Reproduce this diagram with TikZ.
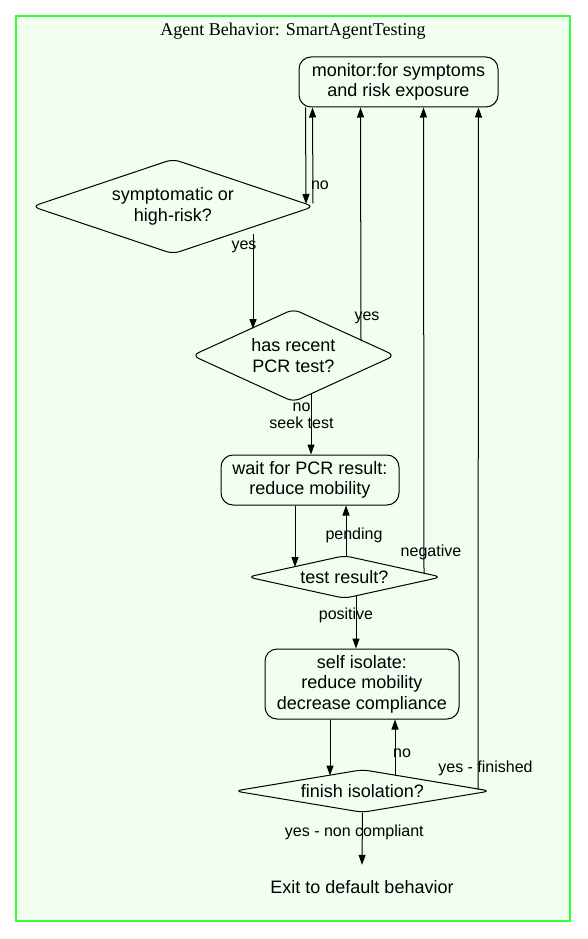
\documentclass[tikz,border=0pt]{standalone}
\usepackage{fontspec}
\setmainfont{Liberation Sans}
\newfontfamily\titlefont{Liberation Serif}
\usetikzlibrary{calc}
\usetikzlibrary{arrows.meta,shapes.geometric}
\definecolor{framegreen}{RGB}{51,255,51}
\definecolor{panelfill}{RGB}{240,255,240}
\tikzset{
	% Two node styles for the behaviour chart: states and tests
	state node/.style={draw,line width=1pt,rounded corners=12pt,align=center,inner sep=0,font=\fontsize{18}{20.5}\selectfont},
	test node/.style={diamond,draw,line width=1pt,rounded corners=7pt,align=center,inner sep=0,font=\fontsize{18}{20.5}\selectfont},
	flow/.style={draw,line width=1pt,-{Triangle[length=10pt,width=7pt]}},
	edge label/.style={font=\fontsize{16}{17}\selectfont,inner sep=0,align=center}
}

\begin{document}
\begin{tikzpicture}[x=1pt,y=-1pt]
				\useasboundingbox (0,0) rectangle (587,939);
				\draw[framegreen,fill=panelfill,line width=1.5pt] (16,16) rectangle (570,921);
				\node(title)[font=\titlefont\fontsize{18}{20}\selectfont] at (293,31) {Agent Behavior: SmartAgentTesting};
				
				% states and tests
				\node(mon)[state node,minimum width=199pt,minimum height=50pt] at (398.5,82) {monitor:for symptoms\\and risk exposure};
				\node(dia1)[test node,minimum width=282pt,minimum height=95pt,aspect=2.97] at (173,206.5) {symptomatic or\\high-risk?};
				\node(dia2)[test node,minimum width=203pt,minimum height=93pt,aspect=2.14] at (293.5,355.5) {has recent\\PCR test?};
				\node(wait)[state node,minimum width=178pt,minimum height=50pt] at (310,480) {wait for PCR result:\\reduce mobility};
				\node(dia3)[test node,minimum width=194pt,minimum height=43pt,aspect=4.4] at (344.5,577) {test result?};
				\node(iso)[state node,minimum width=194pt,minimum height=70pt] at (362,684) {self isolate:\\reduce mobility\\decrease compliance};
				\node(dia4)[test node,minimum width=256pt,minimum height=43pt,aspect=5.93] at (362.5,791) {finish isolation?};
				\node(exit)[font=\fontsize{18}{20}\selectfont,minimum height=44pt] at (362,887) {Exit to default behavior};
				
				% connectors, bottom to top
				\draw[flow] ($(mon.south west)+(7,0)$) -- ($(dia1)+(133,-2.5)$);
				\draw[flow] ($(dia1)+(140,-3)$) -- node[edge label,pos=.19,xshift=7pt](l-no1){no} ($(mon.south west)+(14,0)$);
				\draw[flow] ($(dia1)+(80,27)$) -- node[edge label,pos=.14,xshift=-9pt](l-yes1){yes} ($(dia2)+(-40.5,-26.5)$);
				\draw[flow] ($(dia2)+(67.5,-14.5)$) -- node[edge label,pos=.10,xshift=6pt](l-yes2){yes} ($(mon.south west)+(62,0)$);
				\draw[flow] ($(dia2)+(17.5,38.5)$) -- node[edge label,pos=.36,xshift=-9.5pt](l-no2){no\\seek test} ($(wait.north)+(1,0)$);
				\draw[flow] ($(wait.south)+(-15,0)$) -- ($(dia3)+(-49.5,-10)$);
				\draw[flow] ($(dia3)+(1.5,-21)$) -- node[edge label,pos=.41,xshift=8pt](l-pend){pending} ($(wait.south)+(36,0)$);
				\draw[flow] ($(dia3)+(79.5,-3)$) -- node[edge label,pos=.047,xshift=7pt](l-neg){negative} ($(mon.south west)+(125,0)$);
				\draw[flow] ($(dia3)+(11.5,18.5)$) -- node[edge label,pos=.38,xshift=-10pt](l-pos){positive} ($(iso.north)+(-6,0)$);
				\draw[flow] ($(iso.south)+(-32,0)$) -- ($(dia4)+(-32.5,-15.5)$);
				\draw[flow] ($(dia4)+(32.5,-15.5)$) -- node[edge label,pos=.40,xshift=7pt](l-no3){no} ($(iso.south)+(33,0)$);
				\draw[flow] ($(dia4)+(115.5,-1.5)$) -- node[edge label,pos=.0315,xshift=7.5pt](l-fin){yes - finished} ($(mon.south east)+(-20,0)$);
				\draw[flow] ($(dia4)+(0,21.5)$) -- node[edge label,pos=.38,xshift=-8pt](l-nc){yes - non compliant} (exit.north);
			\end{tikzpicture}
\end{document}
